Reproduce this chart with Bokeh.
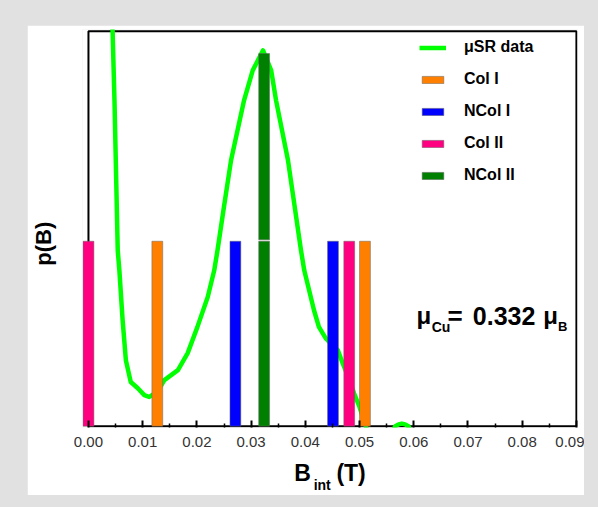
from bokeh.plotting import figure
from bokeh.models import (Range1d, FixedTicker, Legend, LegendItem, Label, BoxAnnotation, LinearAxis)
from bokeh.embed import file_html
from bokeh.resources import INLINE

# ---------------- data ----------------
x_ticks = [0.00, 0.01, 0.02, 0.03, 0.04, 0.05, 0.06, 0.07, 0.08, 0.09]
x_tick_labels = ["0.00", "0.01", "0.02", "0.03", "0.04", "0.05", "0.06", "0.07", "0.08", "0.09"]
x_minor = [0.005, 0.015, 0.025, 0.035, 0.045, 0.055, 0.065, 0.075, 0.085]

musr_B = [0.0043, 0.0048, 0.0054, 0.0057, 0.0063, 0.0069, 0.0078, 0.0091, 0.0103, 0.0112,
          0.0128, 0.0140, 0.0165, 0.0183, 0.0201, 0.0220, 0.0232, 0.0238, 0.0249, 0.0263,
          0.0287, 0.0303, 0.0322, 0.0337, 0.0346, 0.0368, 0.0392, 0.0398, 0.0407, 0.0416,
          0.0425, 0.0438, 0.0449, 0.0460, 0.0469, 0.0480, 0.0490, 0.0500, 0.0508, 0.0515,
          0.0560, 0.0566, 0.0572, 0.0578, 0.0584, 0.0590, 0.0596, 0.0900]
musr_p = [2.30, 1.76, 0.95, 0.843, 0.573, 0.357, 0.239, 0.205, 0.168, 0.158,
          0.19, 0.249, 0.303, 0.395, 0.537, 0.699, 0.843, 0.951, 1.168, 1.438,
          1.762, 1.924, 2.032, 1.924, 1.762, 1.438, 0.951, 0.843, 0.735, 0.627,
          0.537, 0.474, 0.44, 0.411, 0.339, 0.26, 0.177, 0.104, 0.03, -0.03,
          -0.03, 0.0, 0.010, 0.014, 0.010, 0.0, -0.03, -0.03]

col1_B = [0.0127, 0.0510]
col1_p = [1.0, 1.0]
ncol1_B = [0.0271, 0.0451]
ncol1_p = [1.0, 1.0]
col2_B = [0.0000, 0.0481]
col2_p = [1.0, 1.0]
ncol2_B = [0.0324, 0.0324]
ncol2_bottom = [0.0, 1.008]
ncol2_top = [1.0, 2.015]

Y_TOP = 2.135
X_END = 0.09

FONT = "Liberation Sans"
GRAY = "#e1e1e1"
BAR_W = 0.002
NB = "\u00a0"

p = figure(frame_width=495, frame_height=398,
           x_range=Range1d(-0.0011, 0.0902), y_range=Range1d(-0.007, 2.145),
           output_backend="svg", toolbar_location=None,
           min_border_left=54, min_border_right=7, min_border_top=4, min_border_bottom=10)
p.margin = (25, 0, 0, 27)
p.background_fill_color = "white"
p.border_fill_color = "white"
p.outline_line_color = None
p.xgrid.visible = False
p.ygrid.visible = False

# y axis: only its title
ay = p.yaxis[0]
ay.ticker = FixedTicker(ticks=[])
ay.axis_line_color = None
ay.major_tick_in = 0
ay.major_tick_out = 0
ay.minor_tick_in = 0
ay.minor_tick_out = 0
ay.major_label_standoff = 0
ay.axis_label = "p(B)" + NB * 5
ay.axis_label_text_font = FONT
ay.axis_label_text_font_size = "22px"
ay.axis_label_text_font_style = "bold"
ay.axis_label_text_color = "black"
ay.axis_label_standoff = 27

ax = p.xaxis[0]
ax.ticker = FixedTicker(ticks=x_ticks, minor_ticks=x_minor)
ax.major_label_overrides = {t: s for t, s in zip(x_ticks, x_tick_labels)}
ax.axis_line_color = None
ax.major_tick_in = 7
ax.major_tick_out = 0
ax.minor_tick_in = 4
ax.minor_tick_out = 0
ax.major_tick_line_width = 2
ax.minor_tick_line_width = 1.5
ax.major_tick_line_color = "black"
ax.minor_tick_line_color = "black"
ax.major_label_text_font = FONT
ax.major_label_text_font_size = "15px"
ax.major_label_text_color = "#333333"
ax.major_label_standoff = 9
ax.axis_label = "B" + NB * 4 + "(T)"
ax.axis_label_text_font = FONT
ax.axis_label_text_font_size = "23px"
ax.axis_label_text_font_style = "bold"
ax.axis_label_text_color = "black"
ax.axis_label_standoff = 10

# subscript of the x title
ax_sub = LinearAxis(ticker=FixedTicker(ticks=[]), axis_label="int" + NB * 4,
                    axis_line_color=None, major_tick_in=0, major_tick_out=0,
                    minor_tick_in=0, minor_tick_out=0, major_label_standoff=0,
                    axis_label_standoff=-12, axis_label_text_font=FONT,
                    axis_label_text_font_size="14px", axis_label_text_font_style="bold",
                    axis_label_text_color="black")
p.add_layout(ax_sub, "below")

# frame box (drawn under the bars)
box = BoxAnnotation(left=0, right=X_END, bottom=0, top=Y_TOP, fill_alpha=0,
                    line_color="black", line_alpha=1.0, line_width=2, level="underlay")
p.add_layout(box)

line_r = p.line(musr_B, musr_p, line_color="#00ff00", line_width=4.5, line_join="round")

bar_style = dict(width=BAR_W, line_color="#666666", line_alpha=0.5, line_width=1)
r_col1 = p.vbar(x=col1_B, top=col1_p, bottom=0, fill_color="#ff8000", **bar_style)
r_ncol1 = p.vbar(x=ncol1_B, top=ncol1_p, bottom=0, fill_color="#0000ff", **bar_style)
r_col2 = p.vbar(x=col2_B, top=col2_p, bottom=0, fill_color="#ff0080", **bar_style)
r_ncol2 = p.vbar(x=ncol2_B, top=ncol2_top, bottom=ncol2_bottom, fill_color="#008000", **bar_style)

legend = Legend(items=[
    LegendItem(label="\u03bcSR data", renderers=[line_r]),
    LegendItem(label="Col I", renderers=[r_col1]),
    LegendItem(label="NCol I", renderers=[r_ncol1]),
    LegendItem(label="Col II", renderers=[r_col2]),
    LegendItem(label="NCol II", renderers=[r_ncol2]),
], location=(337, 242))
legend.padding = 0
legend.margin = 0
legend.border_line_color = None
legend.background_fill_alpha = 0
legend.glyph_width = 27
legend.glyph_height = 9
legend.label_height = 20
legend.label_standoff = 18
legend.spacing = 12
legend.label_text_font = FONT
legend.label_text_font_size = "16px"
legend.label_text_font_style = "bold"
legend.label_text_color = "black"
p.add_layout(legend, "center")


def lab(x, y, text, size):
    p.add_layout(Label(x=x, y=y, text=text, text_font=FONT,
                       text_font_size=size, text_font_style="bold", text_color="black",
                       text_align="left", text_baseline="alphabetic"))


# annotation mu_Cu = 0.332 mu_B
lab(0.0605, 0.597, "\u03bc", "24px")
lab(0.0633, 0.539, "Cu", "14px")
lab(0.0662, 0.597, "=", "26px")
lab(0.0709, 0.597, "0.332", "25px")
lab(0.0839, 0.597, "\u03bc", "24px")
lab(0.0866, 0.539, "B", "13px")

html = file_html(p, INLINE)
html = html.replace("</head>", "<style>body{background:%s;}</style></head>" % GRAY, 1)
open("out.html", "w").write(html)
